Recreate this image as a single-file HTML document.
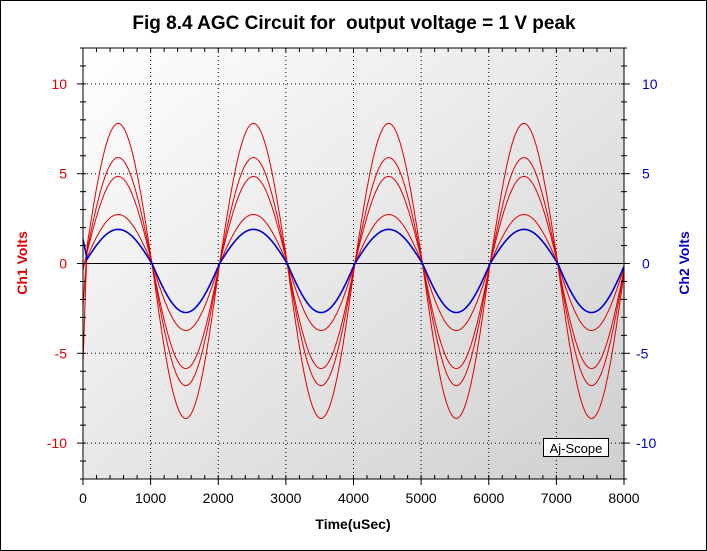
<!DOCTYPE html>
<html><head><meta charset="utf-8"><style>
html,body{margin:0;padding:0;background:#fff}
svg{display:block}
text{font-family:"Liberation Sans",Arial,sans-serif}
</style></head><body>
<svg id="c" width="707" height="551" viewBox="0 0 707 551">
<defs><linearGradient id="bg" x1="0" y1="0" x2="1" y2="1"><stop offset="0" stop-color="#ffffff"/><stop offset="1" stop-color="#cfcfcf"/></linearGradient></defs>
<rect x="0.5" y="0.5" width="706" height="550" fill="#fff" stroke="#000"/>
<text x="354" y="29" text-anchor="middle" font-size="19" font-weight="bold" style="white-space:pre">Fig 8.4 AGC Circuit for  output voltage = 1 V peak</text>
<rect x="83" y="48" width="541" height="431" fill="url(#bg)"/>
<g id="grid"></g><g id="series"></g><g id="axes"></g>
<text transform="translate(27,263) rotate(-90)" text-anchor="middle" font-size="14" font-weight="bold" fill="#e00000">Ch1 Volts</text>
<text transform="translate(689,263) rotate(-90)" text-anchor="middle" font-size="14" font-weight="bold" fill="#0000c0">Ch2 Volts</text>
<text x="353" y="529" text-anchor="middle" font-size="14" font-weight="bold">Time(uSec)</text>
<rect x="543.5" y="438.5" width="65" height="18" fill="#fff" stroke="#000"/>
<text x="576" y="453" text-anchor="middle" font-size="13">Aj-Scope</text>
</svg>
<script>
const xTicks=[0,1000,2000,3000,4000,5000,6000,7000,8000];
const yTicks=[-10,-5,0,5,10];
const redPeaks=[7.8,5.9,4.85,2.73];
const redTroughs=[-8.63,-6.8,-5.85,-3.73];
const bluePeak=[1.9];
const blueTrough=[-2.73];
const period=[2000];
const phaseShift=[20];
const transientRed=[-5,-2];
const transientBlue=[1.5];
const X0=0,X1=8000,Y0=-12,Y1=12;
const L=83,R=624,T=48,B=479;
const sx=v=>L+(v-X0)/(X1-X0)*(R-L);
const sy=v=>B-(v-Y0)/(Y1-Y0)*(B-T);
const NS='http://www.w3.org/2000/svg';
function mk(tag,attrs,parent){const e=document.createElementNS(NS,tag);for(const k in attrs)e.setAttribute(k,attrs[k]);parent.appendChild(e);return e;}
const grid=document.getElementById('grid'),axes=document.getElementById('axes'),ser=document.getElementById('series');
xTicks.forEach(t=>{if(t>X0&&t<X1){const l=mk('line',{x1:sx(t),x2:sx(t),y1:T,y2:B,stroke:'#000','stroke-dasharray':'1 3'},grid);

}});
yTicks.forEach(t=>{if(t!==0){const l=mk('line',{x1:L,x2:R,y1:sy(t),y2:sy(t),stroke:'#000','stroke-dasharray':'1 3'},grid);

}});
const z=mk('line',{x1:L,x2:R,y1:sy(0),y2:sy(0),stroke:'#000'},grid);


function wave(pk,tr,trans){let d='';for(let i=0;i<=800;i++){const t=X0+i*(X1-X0)/800;const s=Math.sin(2*Math.PI*(t-phaseShift[0])/period[0]);let v=s>=0?pk*s:-tr*s;
if(trans!==undefined&&t<60){v=v+trans*(1-t/60);}
d+=(i?'L':'M')+sx(t).toFixed(1)+' '+sy(v).toFixed(1);}return d;}
redPeaks.forEach((p,i)=>{const e=mk('path',{d:wave(p,redTroughs[i],i<2?transientRed[i]:undefined),fill:'none',stroke:'#e00000','stroke-width':1},ser);

});
const b=mk('path',{d:wave(bluePeak[0],blueTrough[0],transientBlue[0]),fill:'none',stroke:'#0000d0','stroke-width':1.6},ser);


const fr=mk('rect',{x:L,y:T,width:R-L,height:B-T,fill:'none',stroke:'#000'},axes);


for(let t=X0;t<=X1;t+=200){const maj=t%1000===0;
mk('line',{x1:sx(t),x2:sx(t),y1:B-4,y2:B+(maj?6:0),stroke:'#000'},axes);
mk('line',{x1:sx(t),x2:sx(t),y1:T,y2:T+4,stroke:'#000'},axes);}
for(let v=-12;v<=12;v++){const maj=v%5===0;
mk('line',{x1:L-(maj?6:3),x2:L+3,y1:sy(v),y2:sy(v),stroke:'#000'},axes);
mk('line',{x1:R-3,x2:R+(maj?6:3),y1:sy(v),y2:sy(v),stroke:'#000'},axes);}
xTicks.forEach(t=>{const e=mk('text',{x:sx(t),y:503,'text-anchor':'middle','font-size':14},axes);e.textContent=t;

});
yTicks.forEach(t=>{const e=mk('text',{x:67,y:sy(t)+5,'text-anchor':'end','font-size':14,fill:'#e00000'},axes);e.textContent=t;


const f=mk('text',{x:t<0?636:642,y:sy(t)+5,'font-size':14,fill:'#0000c0'},axes);f.textContent=t;

});
</script>
</body></html>
